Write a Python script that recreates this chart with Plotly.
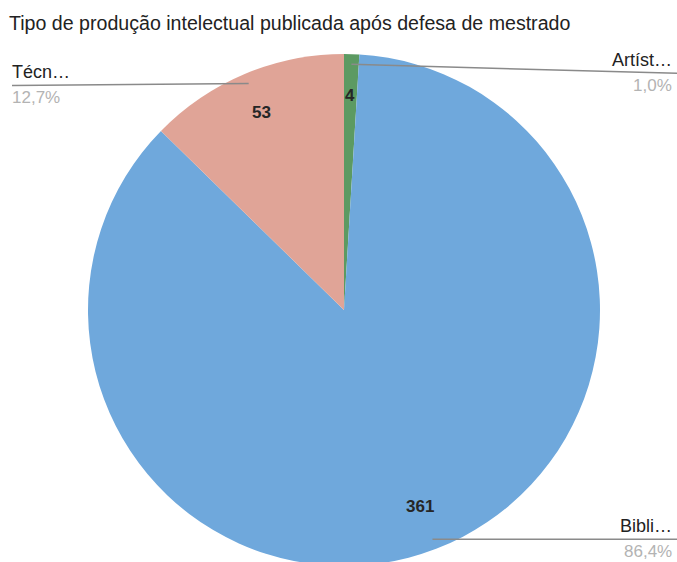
import math
import plotly.graph_objects as go

# Data
categories = ["Artística", "Bibliográfica", "Técnica"]
short_labels = ["Artíst…", "Bibli…", "Técn…"]
counts = [4, 361, 53]
colors = ["#5c9a62", "#6fa8dc", "#e0a497"]

W, H = 677, 570
ML, MR, MT, MB = 88, 77, 54, 4
PW = W - ML - MR
PH = H - MT - MB
FONT = "Liberation Sans, Arial, sans-serif"


def px_x(x):
    return (x - ML) / PW


total = sum(counts)
fracs = [c / total for c in counts]

fig = go.Figure(
    go.Pie(
        labels=categories,
        values=counts,
        sort=False,
        direction="clockwise",
        rotation=0,
        marker=dict(colors=colors, line=dict(width=0)),
        textinfo="none",
        hoverinfo="skip",
        showlegend=False,
        domain=dict(x=[0, 1], y=[0, 1]),
    )
)

annotations = []
shapes = []

# mid-angle of every slice, measured clockwise from 12 o'clock
mids = []
acc = 0.0
for f in fracs:
    mids.append((acc + f / 2) * 2 * math.pi)
    acc += f


def polar(theta, k):
    return 0.5 + 0.5 * k * math.sin(theta), 0.5 + 0.5 * k * math.cos(theta)


# value labels inside the slices
for th, c in zip(mids, counts):
    x, y = polar(th, 0.83)
    annotations.append(dict(
        x=x, y=y + 2 / PH, xref="paper", yref="paper", text=f"<b>{c}</b>",
        showarrow=False, xanchor="center", yanchor="middle",
        font=dict(size=17, color="#262626", family=FONT),
    ))

# outside labels with leader lines
label_font = dict(size=18, color="#222222", family=FONT)
pct_font = dict(size=17, color="#b3b3b3", family=FONT)
for i, (th, f) in enumerate(zip(mids, fracs)):
    x0, y0 = polar(th, 0.96)
    pct = f"{f * 100:.1f}%".replace(".", ",")
    right = math.sin(th) >= 0
    if right:
        x1 = px_x(677)
        y1 = y0 - (9 / PH if math.cos(th) > 0 else 0)
        tx = px_x(674)
        anchor = "right"
    else:
        x1 = px_x(12)
        y1 = y0 - 2 / PH
        tx = px_x(10)
        anchor = "left"
    shapes.append(dict(type="line", xref="paper", yref="paper",
                       x0=x0, y0=y0, x1=x1, y1=y1,
                       line=dict(color="#8a8a8a", width=1.5)))
    annotations.append(dict(
        x=tx, y=y1 + 1 / PH, xref="paper", yref="paper", text=short_labels[i],
        showarrow=False, xanchor=anchor, yanchor="bottom", font=label_font,
    ))
    annotations.append(dict(
        x=tx, y=y1 - 1 / PH, xref="paper", yref="paper", text=pct,
        showarrow=False, xanchor=anchor, yanchor="top", font=pct_font,
    ))

fig.update_layout(
    width=W, height=H,
    margin=dict(l=ML, r=MR, t=MT, b=MB),
    paper_bgcolor="white",
    plot_bgcolor="white",
    title=dict(
        text="Tipo de produção intelectual publicada após defesa de mestrado",
        x=9 / W, xanchor="left", y=1 - 23 / H, yanchor="middle",
        font=dict(size=19.6, color="#222222", family=FONT),
    ),
    annotations=annotations,
    shapes=shapes,
)

fig.write_html("out.html")
